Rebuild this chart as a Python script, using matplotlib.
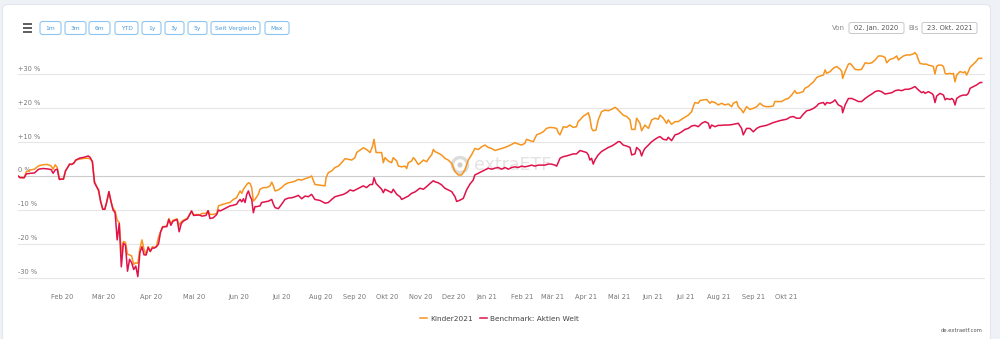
import matplotlib.pyplot as plt
from matplotlib.patches import FancyBboxPatch, Circle

# Wertentwicklung in %, x = Handelstag seit 02.01.2020
kinder_days = [0, 1, 3, 4, 6, 8, 10, 12, 14, 16, 17, 18, 19, 20, 22, 23, 25, 26, 27, 28,
               30, 32, 34, 35, 36, 37, 38, 39, 40, 41, 42, 43, 44, 45, 46, 47, 48, 49, 50, 51,
               52, 53, 54, 55, 56, 57, 58, 59, 60, 61, 62, 63, 64, 65, 66, 67, 68, 69, 70, 72,
               73, 74, 75, 77, 78, 79, 80, 82, 84, 85, 87, 88, 89, 91, 92,
               92.9, 94.5, 96.2, 97, 97.8, 99.4, 101, 102.6, 104.2, 105.8, 106.6, 107.5, 108.3,
               109.1, 110.7, 111.5, 112.3, 113.1, 113.9, 114.7, 116.3, 117.1, 118.7, 120.4, 122,
               122.8, 123.6, 124.4, 126, 127.6, 129.2, 130.8, 132.5, 134.1, 135.7, 137.3, 138.9,
               140.5, 142.1, 143.7, 146.2, 148.6, 149.1, 150.2, 151.8, 153.4, 155, 156.6, 158.3,
               159.9, 161.5, 163.1, 163.9, 165.5, 167.1, 168.7, 170.4, 171.6, 172.3, 173.3, 174.4,
               176, 176.8, 177.6, 179.2, 180.8, 181.6, 183.3, 184.1, 185.7, 187.3, 188.1, 188.9,
               190.5, 191.3, 192.1, 193.7,
               194.5, 196.2, 197.8, 199.4, 200.2, 201, 201.8, 203.4, 205, 206.6, 208.2, 209.9,
               211.5, 213.1, 214.7, 216.3, 217.9, 219.5, 221.1, 222.8, 224.4, 226, 227.6, 229.2,
               230.8, 232.4, 234.1, 235.7, 237.3, 238.9, 240.5, 242.1, 243.7, 245.3, 246.1, 247.8,
               249.4, 251, 252.6, 254.2, 255.8, 257.4, 259.1, 260.7, 261.5, 262.3, 263.9, 265.5,
               267.1, 268.7, 270.3, 271.1, 272, 273.6, 275.2, 276, 276.8, 277.6, 278.4, 279.7,
               280.8, 282.4, 284.1, 285.7, 287.3, 288.9, 289.7, 291.3,
               292.9, 294.6, 295.4, 296.2, 297, 298.6, 299.4, 301, 301.8, 303.4, 304.2, 305.1,
               306.7, 308.3, 309.9, 310.7, 312.3, 313.9, 314.7, 316.3, 318, 319.6, 321.2, 322.8,
               324.4, 326, 326.8, 327.6, 329.2, 330.1, 331.7, 333.3, 334.9, 335.7, 337.3, 338.9,
               340.5, 342.1, 343.8, 345.4, 346.2, 347.8, 348.6, 350.2, 351, 352.6, 354.2, 355.9,
               357.5, 359.1, 360.7, 362.3, 363.9, 365.5, 366.3, 367.9, 369.6, 371.2, 372.8, 374.4,
               376, 376.8, 378.4, 380, 380.8, 382.5,
               383.3, 385, 386.6, 388.2, 389.8, 390.6, 391.4, 393, 394.6, 396.2, 397.9, 398.7,
               399.1, 400.3, 401.9, 402.7, 403.5, 405.1, 406.7, 408.3, 410, 411.6, 413.2, 414.8,
               416.4, 418, 419.6, 420.4, 422, 423.7, 425.3, 426.1, 426.9, 428.5, 430.1, 431.7,
               433.3, 434.1, 435, 435.8, 436.6, 438.2, 439.8, 440.6, 442.2, 443, 443.8, 444.6,
               445.4, 447.1, 447.9, 448.7, 449.5, 451.1, 451.9, 452.7, 453.5, 454.3, 455.9, 457.5,
               458.3, 459.1, 459.9, 460.8, 462.4, 464, 464.8, 466.4]
kinder_vals = [0.0, -0.4, -0.5, 1.2, 1.8, 2.0, 3.0, 3.3, 3.4, 3.0, 2.0, 3.3, 2.5, -0.8, -0.9, 1.5, 3.5, 3.4, 3.8, 4.7,
               5.0, 5.2, 5.2, 5.0, 4.2, -1.5, -3.0, -4.5, -7.5, -9.6, -9.8, -7.5, -4.6, -7.5, -9.5, -10.3, -13.0, -13.7, -22.7, -19.3,
               -19.5, -23.0, -23.2, -23.5, -26.0, -25.5, -25.7, -21.3, -18.8, -21.6, -23.2, -20.8, -22.2, -20.8, -21.0, -20.7, -18.0, -16.4, -14.9, -14.7,
               -12.5, -14.0, -13.0, -12.6, -14.5, -13.5, -13.0, -12.4, -10.3, -11.4, -11.3, -11.5, -11.0, -11.0, -10.2,
               -11.3, -11.3, -11.0, -8.8, -8.6, -8.3, -8.0, -7.8, -6.9, -6.4, -5.4, -4.4, -5.1,
               -3.9, -2.5, -2.0, -2.2, -3.4, -7.4, -6.9, -5.4, -3.9, -3.4, -3.4, -2.9,
               -1.8, -2.9, -4.4, -4.1, -3.4, -2.5, -2.0, -1.8, -1.5, -1.0, -1.2, -0.8,
               -0.5, 0.0, -2.5, -2.7, -2.9, -0.5, 1.0, 1.5, 2.5, 2.9, 3.9, 5.1,
               4.9, 4.7, 5.4, 6.9, 7.6, 8.3, 7.8, 6.9, 8.8, 10.8, 6.9, 6.9,
               6.9, 3.9, 5.4, 4.4, 3.9, 5.4, 4.4, 2.9, 2.7, 2.9, 2.2, 3.9,
               4.4, 5.4, 4.9, 3.4,
               3.7, 4.7, 4.2, 5.7, 6.2, 7.8, 7.2, 6.7, 6.2, 5.2, 4.7, 3.7,
               1.3, 0.3, 0.3, 1.8, 4.7, 6.2, 8.1, 7.8, 8.6, 9.1, 8.4, 8.1,
               7.5, 7.8, 8.1, 8.4, 8.8, 9.3, 9.8, 9.4, 9.1, 9.6, 10.8, 10.4,
               10.1, 12.1, 12.5, 13.0, 14.0, 14.3, 14.2, 14.0, 12.7, 12.1, 14.5, 14.3,
               15.0, 14.3, 14.5, 16.0, 16.5, 17.6, 18.2, 18.6, 17.0, 14.0, 13.3, 13.5,
               16.5, 18.9, 19.4, 19.2, 19.6, 20.2, 19.9, 18.9,
               17.9, 17.5, 17.0, 16.5, 13.7, 13.7, 17.0, 15.5, 13.3, 15.0, 14.5, 14.0,
               16.5, 17.0, 16.7, 17.9, 17.0, 15.5, 16.5, 15.2, 16.0, 16.0, 16.7, 17.3,
               17.9, 18.9, 20.4, 21.6, 21.4, 22.2, 22.4, 22.5, 21.4, 21.9, 21.6, 20.9,
               21.4, 20.9, 21.2, 20.4, 21.4, 21.9, 20.4, 19.4, 18.6, 20.4, 19.6, 19.9,
               20.4, 21.4, 20.6, 20.4, 20.4, 20.6, 21.9, 21.9, 21.9, 22.5, 22.8, 23.8,
               25.1, 24.3, 24.5, 24.8, 25.8, 26.3,
               26.8, 27.7, 29.0, 29.4, 29.7, 31.2, 30.2, 30.7, 31.7, 32.2, 31.4, 30.7,
               28.7, 30.7, 32.9, 33.1, 32.6, 31.4, 31.2, 31.4, 33.3, 33.1, 33.3, 34.1,
               35.3, 35.3, 34.9, 33.3, 34.3, 34.6, 35.3, 34.1, 34.6, 35.3, 35.6, 35.6,
               35.9, 36.3, 35.6, 34.1, 33.1, 32.9, 32.9, 32.6, 32.4, 32.2, 30.0, 32.2,
               32.6, 32.6, 32.2, 30.2, 30.0, 30.2, 30.0, 30.2, 27.7, 29.7, 30.7, 30.4,
               30.7, 29.7, 30.7, 32.0, 32.9, 33.9, 34.6, 34.6]

bench_days = [0, 1, 3, 4, 6, 8, 10, 12, 14, 16, 17, 18, 19, 20, 22, 23, 25, 26, 27, 28,
              30, 32, 34, 35, 36, 37, 38, 39, 40, 41, 42, 43, 44, 45, 46, 47, 48, 49, 50, 51,
              52, 53, 54, 55, 56, 57, 58, 59, 60, 61, 62, 63, 64, 65, 66, 67, 68, 69, 70, 72,
              73, 74, 75, 77, 78, 79, 80, 82, 84, 85, 87, 88, 89, 91, 92,
              92.9, 94.5, 96.2, 97, 97.8, 99.4, 101, 102.6, 104.2, 105.8, 106.6, 107.5, 108.3,
              109.1, 109.9, 110.7, 111.5, 112.3, 113.1, 113.9, 114.7, 115.5, 117.1, 117.9, 119.5,
              121.2, 122.8, 123.6, 124.4, 126, 127.6, 129.2, 130.8, 132.5, 134.1, 135.7, 137.3,
              138.9, 140.5, 142.1, 143.7, 146.2, 148.6, 150.2, 151.8, 153.4, 155.8, 157.5, 159.1,
              160.7, 162.3, 163.9, 165.5, 167.1, 168.7, 170.4, 171.6, 172.3, 173.3, 174.4, 176,
              176.8, 177.6, 179.2, 180.8, 181.6, 183.3, 184.9, 185.7, 187.3, 188.9, 190.5, 192.1,
              194.5, 196.2, 197.8, 199.4, 201, 201.8, 203.4, 205, 206.6, 208.2, 209.9, 211.5,
              212.3, 213.9, 215.5, 217.1, 218.7, 220.3, 221.1, 222.8, 224.4, 226, 227.6, 229.2,
              230.8, 232.4, 234.1, 235.7, 237.3, 238.9, 240.5, 242.1, 243.7, 245.3, 246.9, 248.6,
              250.2, 251.8, 253.4, 255, 256.6, 258.2, 259.9, 260.7, 262.3, 263.9, 265.5, 267.1,
              268.7, 270.3, 272, 273.6, 275.2, 276, 276.8, 277.6, 278.4, 279.2, 280.8, 282.4,
              284.1, 285.7, 287.3, 288.9, 290.5,
              291.3, 292.9, 294.6, 296.2, 297, 298.6, 299.4, 301, 301.8, 302.6, 303.4, 305.1,
              306.7, 308.3, 309.9, 310.7, 312.3, 313.9, 314.7, 316.3, 318, 319.6, 321.2, 322.8,
              324.4, 326, 327.6, 329.2, 330.9, 332.5, 334.1, 334.9, 335.7, 337.3, 338.9, 340.5,
              342.1, 343.8, 345.4, 347, 348.6, 350.2, 351, 352.6, 354.2, 355.9, 357.5, 359.1,
              360.7, 362.3, 363.9, 365.5, 367.1, 368.8, 370.4, 372, 373.6, 375.2, 376.8,
              378.5, 380.1, 381.7, 383.3, 385, 386.6, 387.4, 388.2, 389.8, 390.6, 391.4, 393,
              394.6, 395.4, 397, 398.7, 399.1, 400.3, 401.9, 403.5, 405.1, 406.7, 408.3, 410,
              411.6, 413.2, 414.8, 416.4, 418, 419.6, 421.2, 422.9, 424.5, 426.1, 427.7, 429.3,
              430.9, 432.5, 434.1, 435.8, 437.4, 438.2, 439, 440.6, 442.2, 443, 443.8, 444.6,
              446.2, 447.9, 448.7, 449.5, 451.1, 451.9, 452.7, 453.5, 454.3, 455.9, 457.5, 459.1,
              459.9, 460.8, 462.4, 464, 465.6, 466.4]
bench_vals = [0.0, -0.5, -0.5, 0.6, 0.8, 0.9, 2.0, 2.2, 2.1, 1.9, 0.8, 1.8, 2.0, -1.0, -0.9, 1.5, 3.5, 3.4, 3.8, 4.7,
              5.3, 5.5, 5.9, 5.4, 4.2, -2.0, -3.1, -4.1, -7.5, -9.8, -9.8, -7.5, -4.6, -7.5, -10.0, -10.8, -18.8, -14.0, -26.7, -19.8,
              -20.3, -28.0, -24.5, -25.5, -27.5, -26.5, -29.6, -22.5, -20.8, -23.2, -23.2, -21.0, -22.2, -21.2, -21.2, -20.8, -20.0, -16.5, -15.0, -14.9,
              -12.8, -14.5, -13.3, -12.8, -16.4, -14.0, -13.3, -12.6, -10.3, -11.6, -11.5, -11.5, -11.8, -11.6, -10.2,
              -12.5, -12.3, -11.3, -10.0, -10.3, -9.8, -9.3, -8.8, -8.6, -8.3, -7.5, -6.9, -7.6,
              -6.7, -7.8, -5.4, -4.4, -5.9, -6.9, -10.8, -9.0, -9.0, -8.8, -7.8, -7.6,
              -7.4, -6.9, -8.3, -9.3, -9.6, -8.3, -6.9, -6.5, -6.4, -6.1, -5.7, -6.7,
              -5.9, -6.1, -5.4, -6.9, -7.2, -8.0, -7.8, -6.9, -6.1, -5.7, -5.4, -4.9,
              -4.1, -4.4, -3.9, -3.4, -2.9, -3.4, -2.5, -2.5, -0.5, -2.2, -2.9, -3.9,
              -4.9, -3.9, -4.4, -4.9, -3.9, -5.4, -6.1, -6.9, -6.4, -5.9, -5.1, -4.7,
              -3.6, -3.9, -3.1, -2.2, -1.4, -1.7, -2.0, -2.6, -3.6, -4.1, -4.6, -6.1,
              -7.5, -7.1, -6.6, -4.1, -2.4, -1.2, 0.3, 0.8, 1.3, 1.8, 2.3, 2.0,
              2.3, 2.5, 2.0, 2.5, 2.0, 2.5, 2.7, 2.5, 2.9, 2.7, 2.9, 3.2,
              2.9, 3.2, 3.2, 3.2, 3.5, 3.5, 3.2, 2.9, 5.2, 5.7, 5.9, 6.2,
              6.5, 6.5, 7.5, 7.2, 6.9, 6.2, 4.7, 5.2, 3.5, 4.7, 6.2, 7.2,
              7.8, 8.4, 8.8, 9.4, 10.1,
              10.1, 9.1, 8.8, 8.4, 6.2, 6.5, 8.4, 7.5, 5.9, 7.2, 8.1, 9.1,
              10.1, 10.8, 11.4, 11.6, 10.8, 10.6, 11.4, 10.4, 12.1, 12.4, 13.0, 13.7,
              14.0, 14.7, 14.9, 14.5, 15.5, 16.0, 15.5, 14.0, 15.0, 14.5, 14.9, 14.9,
              15.0, 15.0, 15.1, 15.3, 15.5, 14.0, 12.1, 14.0, 14.0, 13.0, 14.0, 14.5,
              14.7, 14.9, 15.3, 15.7, 16.0, 16.3, 16.5, 16.7, 17.3, 17.5, 17.0,
              17.0, 18.2, 19.2, 19.4, 19.9, 20.6, 21.2, 21.4, 21.6, 20.9, 21.6, 21.4,
              21.9, 22.4, 20.9, 20.4, 18.6, 20.9, 22.8, 22.8, 22.4, 21.9, 21.9, 22.8,
              23.5, 24.1, 24.8, 25.1, 24.8, 24.1, 24.3, 24.5, 25.1, 25.3, 25.1, 25.5,
              25.5, 25.8, 26.3, 25.3, 24.5, 24.8, 24.3, 24.8, 24.3, 23.8, 21.6, 23.5,
              24.3, 23.8, 22.4, 22.8, 22.5, 22.8, 22.4, 20.9, 22.8, 23.5, 23.8, 23.8,
              24.3, 25.8, 26.3, 26.8, 27.5, 27.5]

tick_days = [21.3, 41.6, 64.2, 85.2, 107.0, 127.8, 146.7, 163.0, 178.6, 195.1, 211.0,
             227.0, 243.8, 258.5, 274.8, 290.9, 307.2, 323.2, 339.3, 355.8, 371.6]
tick_labels = ['Feb 20', 'Mär 20', 'Apr 20', 'Mai 20', 'Jun 20', 'Jul 20', 'Aug 20',
               'Sep 20', 'Okt 20', 'Nov 20', 'Dez 20', 'Jan 21', 'Feb 21', 'Mär 21',
               'Apr 21', 'Mai 21', 'Jun 21', 'Jul 21', 'Aug 21', 'Sep 21', 'Okt 21']
y_levels = [-30, -20, -10, 0, 10, 20, 30]

buttons = ['1m', '3m', '6m', 'YTD', '1y', '3y', '5y', 'Seit Vergleich', 'Max']
button_x = [(40, 61), (65, 86), (89, 110), (115, 138), (142, 161), (165, 184),
            (188, 207), (211, 260), (265, 289)]

ORANGE = '#f7941d'
RED = '#e0124b'

fig = plt.figure(figsize=(10, 3.39), dpi=100)
fig.patch.set_facecolor('#eef1f6')

# Hintergrund + Bedienelemente in Pixelkoordinaten
bg = fig.add_axes([0, 0, 1, 1])
bg.set_xlim(0, 1000)
bg.set_ylim(339, 0)
bg.axis('off')
bg.add_patch(FancyBboxPatch((2.5, 4.5), 988, 350, boxstyle='round,pad=0,rounding_size=5',
                            fc='white', ec='#e2e6ee', lw=0.8))

# Menue-Icon
for yy in (23.5, 27.8, 32):
    bg.plot([22.5, 31.5], [yy, yy], color='#333333', lw=1.1, solid_capstyle='butt')

for (x0, x1), lab in zip(button_x, buttons):
    bg.add_patch(FancyBboxPatch((x0, 21.5), x1 - x0, 13, boxstyle='round,pad=0,rounding_size=2.5',
                                fc='white', ec='#8ec6f2', lw=0.8))
    bg.text((x0 + x1) / 2, 28.3, lab, ha='center', va='center', fontsize=4.3, color='#4a9be0')

bg.text(845, 28, 'Von', ha='right', va='center', fontsize=5, color='#888888')
bg.add_patch(FancyBboxPatch((849, 22.5), 55, 11, boxstyle='round,pad=0,rounding_size=2',
                            fc='white', ec='#c8c8c8', lw=0.7))
bg.text(876.5, 28, '02. Jan. 2020', ha='center', va='center', fontsize=4.8, color='#555555')
bg.text(908, 28, 'Bis', ha='left', va='center', fontsize=5, color='#888888')
bg.add_patch(FancyBboxPatch((922, 22.5), 55, 11, boxstyle='round,pad=0,rounding_size=2',
                            fc='white', ec='#c8c8c8', lw=0.7))
bg.text(949.5, 28, '23. Okt. 2021', ha='center', va='center', fontsize=4.8, color='#555555')

# Wasserzeichen
bg.add_patch(Circle((460, 165), 7.5, fill=False, ec='#dcdcdc', lw=2.4))
bg.add_patch(Circle((460, 165), 2.6, fc='#d0d0d0', ec='none'))
bg.text(474, 165.5, 'extraETF', ha='left', va='center', fontsize=12.5, color='#e3e3e3')

bg.text(983, 331, 'de.extraetf.com', ha='right', va='center', fontsize=3.8, color='#555555')

# eigentliches Diagramm
ax = fig.add_axes([0.018, 49 / 339, 0.967, 245 / 339])
ax.patch.set_alpha(0)
ax.set_xlim(0, 468)
ax.set_ylim(-33.53, 38.53)

for v in y_levels:
    ax.axhline(v, color='#cccccc' if v == 0 else '#e6e6e6', lw=0.8, zorder=1)
    lab = '0 %' if v == 0 else ('+%d %%' % v if v > 0 else '%d %%' % v)
    ax.annotate(lab, (0, v), xytext=(0, 1.8), textcoords='offset points',
                ha='left', va='bottom', fontsize=4.8, color='#777777')

ax.plot(kinder_days, kinder_vals, color=ORANGE, lw=1.1, label='Kinder2021', zorder=3)
ax.plot(bench_days, bench_vals, color=RED, lw=1.1, label='Benchmark: Aktien Welt', zorder=4)

ax.set_xticks(tick_days)
ax.set_xticklabels(tick_labels)
ax.tick_params(axis='x', length=0, labelsize=4.8, colors='#777777', pad=3)
ax.set_yticks([])
for s in ax.spines.values():
    s.set_visible(False)

ax.legend(loc='center', bbox_to_anchor=(0.4995, 1 - 319 / 339), bbox_transform=fig.transFigure,
          ncol=2, frameon=False, fontsize=5.3, handlelength=0.9, handletextpad=0.4,
          columnspacing=1.0, labelcolor='#444444')

fig.savefig('out.png', dpi=100, facecolor=fig.get_facecolor())
